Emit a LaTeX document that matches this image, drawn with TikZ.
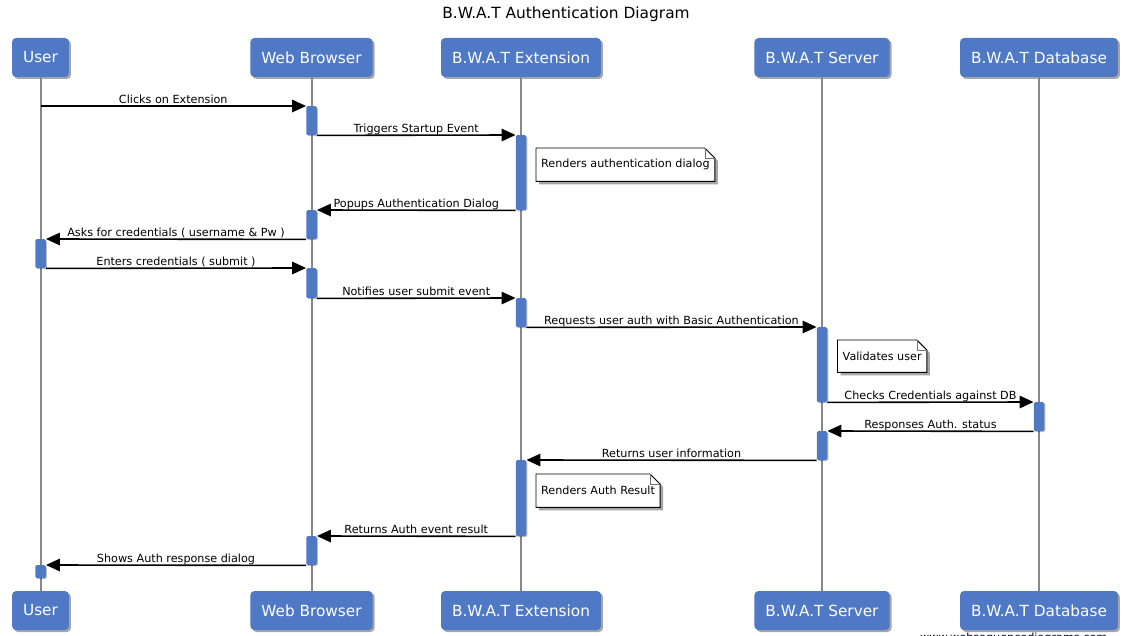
\documentclass[tikz,border=0pt]{standalone}
\usepackage{fontspec}
\setmainfont{DejaVu Sans}
\usetikzlibrary{arrows.meta,shadows,backgrounds}
\definecolor{boxblue}{RGB}{80,121,197}
\definecolor{lifegray}{RGB}{136,136,136}
\newcommand\drawnote[1]{%
  \begin{pgfonlayer}{background}
    \fill[black!35] ([xshift=3pt,yshift=-3pt]#1.south west) -- ([xshift=3pt,yshift=-3pt]#1.north west) -- ([xshift=-7pt,yshift=-3pt]#1.north east) -- ([xshift=3pt,yshift=-13pt]#1.north east) -- ([xshift=3pt,yshift=-3pt]#1.south east) -- cycle;
    \filldraw[fill=white, draw=black, line width=0.9pt] (#1.south west) -- (#1.north west) -- ([xshift=-10pt]#1.north east) -- ([yshift=-10pt]#1.north east) -- (#1.south east) -- cycle;
    \draw[line width=0.6pt, black!55] ([xshift=-10pt]#1.north east) -- ([xshift=-10pt,yshift=-10pt]#1.north east) -- ([yshift=-10pt]#1.north east);
  \end{pgfonlayer}}
\begin{document}
\begin{tikzpicture}[x=1pt,y=-1pt,
  head/.style={fill=boxblue, rounded corners=4pt, text=white, minimum height=39pt, inner xsep=11pt,
    font=\fontsize{15.3}{17}\selectfont,
    drop shadow={shadow xshift=2pt, shadow yshift=-2pt, fill=black, opacity=0.35}},
  act/.style={fill=boxblue, rounded corners=1.5pt, minimum width=10.5pt, inner sep=0pt, anchor=north,
    drop shadow={shadow xshift=1pt, shadow yshift=-1pt, fill=black, opacity=0.25}},
  msg/.style={line width=1.6pt, -{Triangle[length=14pt,width=12.5pt]}},
  lbl/.style={font=\fontsize{11.2}{13}\selectfont, anchor=base, yshift=2.5pt, inner sep=0pt},
  life/.style={lifegray, line width=2pt},
  notetext/.style={font=\fontsize{11.2}{13}\selectfont, inner xsep=5pt, inner ysep=0pt, minimum height=33pt, anchor=north west}
]
\begin{pgfonlayer}{background}
\fill[white] (0,0) rectangle (1128,636);
\end{pgfonlayer}
\useasboundingbox (0,0) rectangle (1128,636);

\node[font=\fontsize{15.4}{17}\selectfont, anchor=base] (title) at (566,18.3) {B.W.A.T Authentication Diagram};

% participants
\node[head] (hU) at (40.5,57.5) {User};
\node[head] (hB) at (311.5,57.5) {Web Browser};
\node[head] (hE) at (521,57.5) {B.W.A.T Extension};
\node[head] (hS) at (822,57.5) {B.W.A.T Server};
\node[head] (hD) at (1039,57.5) {B.W.A.T Database};
\node[head] (fU) at (40.5,610.5) {User};
\node[head] (fB) at (311.5,610.5) {Web Browser};
\node[head] (fE) at (521,610.5) {B.W.A.T Extension};
\node[head] (fS) at (822,610.5) {B.W.A.T Server};
\node[head] (fD) at (1039,610.5) {B.W.A.T Database};

% lifelines
\draw[life] (hU.south) -- (fU.north);
\draw[life] (hB.south) -- (fB.north);
\draw[life] (hE.south) -- (fE.north);
\draw[life] (hS.south) -- (fS.north);
\draw[life] (hD.south) -- (fD.north);

% activations
\node[act, minimum height=29pt] (aB1) at (311.5,106) {};
\node[act, minimum height=75pt] (aE1) at (521,135) {};
\node[act, minimum height=29pt] (aB2) at (311.5,210) {};
\node[act, minimum height=29pt] (aU1) at (40.5,239) {};
\node[act, minimum height=30pt] (aB3) at (311.5,268) {};
\node[act, minimum height=29pt] (aE2) at (521,298) {};
\node[act, minimum height=75pt] (aS1) at (822,327) {};
\node[act, minimum height=29pt] (aD1) at (1039,402) {};
\node[act, minimum height=29pt] (aS2) at (822,431) {};
\node[act, minimum height=76pt] (aE3) at (521,460) {};
\node[act, minimum height=29pt] (aB4) at (311.5,536) {};
\node[act, minimum height=13pt] (aU2) at (40.5,565) {};

\coordinate (u0) at (40.5,106);

% messages
\draw[msg] (u0) -- node[lbl] {Clicks on Extension} (aB1.north west);
\draw[msg] (aB1.south east) -- node[lbl] {Triggers Startup Event} (aE1.north west);
\draw[msg] (aE1.south west) -- node[lbl] {Popups Authentication Dialog} (aB2.north east);
\draw[msg] (aB2.south west) -- node[lbl] {Asks for credentials ( username \& Pw )} (aU1.north east);
\draw[msg] (aU1.south east) -- node[lbl] {Enters credentials ( submit )} (aB3.north west);
\draw[msg] (aB3.south east) -- node[lbl] {Notifies user submit event} (aE2.north west);
\draw[msg] (aE2.south east) -- node[lbl] {Requests user auth with Basic Authentication} (aS1.north west);
\draw[msg] (aS1.south east) -- node[lbl] {Checks Credentials against DB} (aD1.north west);
\draw[msg] (aD1.south west) -- node[lbl] {Responses Auth. status} (aS2.north east);
\draw[msg] (aS2.south west) -- node[lbl] {Returns user information} (aE3.north east);
\draw[msg] (aE3.south west) -- node[lbl] {Returns Auth event result} (aB4.north east);
\draw[msg] (aB4.south west) -- node[lbl] {Shows Auth response dialog} (aU2.north east);

% notes
\node[notetext] (n1) at (536,148) {Renders authentication dialog};
\drawnote{n1}
\node[notetext, minimum height=32pt] (n2) at (837.5,340) {Validates user};
\drawnote{n2}
\node[notetext] (n3) at (536,474) {Renders Auth Result};
\drawnote{n3}

% watermark (cut off at the lower edge, as in the reference)
\node[font=\fontsize{11.2}{13}\selectfont, anchor=north west, inner sep=0pt] (wm) at (920,632.5) {www.websequencediagrams.com};
\end{tikzpicture}
\end{document}
